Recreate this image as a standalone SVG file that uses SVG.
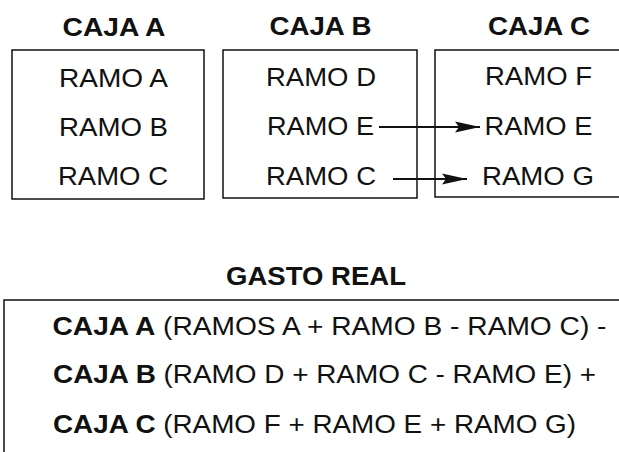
<svg xmlns="http://www.w3.org/2000/svg" width="619" height="452" viewBox="0 0 619 452">
  <style>
    .box { fill: none; stroke: #111; stroke-width: 1.5; }
    .t { font-family: "Liberation Sans", Arial, sans-serif; font-size: 25px; fill: #111; }
    .b { font-weight: bold; }
    .conn { stroke: #111; stroke-width: 2; fill: none; }
  </style>
  <defs>
    <marker id="arrow" markerUnits="userSpaceOnUse" markerWidth="26" markerHeight="12" refX="25" refY="6" orient="auto">
      <path d="M0,0.5 L25,6 L0,11.5 L4,6 z" fill="#111"/>
    </marker>
  </defs>
  <rect width="619" height="452" fill="#fff"/>

  <g id="caja-a">
    <text class="t b" x="62.5" y="36" textLength="103" lengthAdjust="spacingAndGlyphs">CAJA A</text>
    <rect class="box" x="12" y="50" width="192" height="149"/>
    <text class="t" x="59" y="87" textLength="109" lengthAdjust="spacingAndGlyphs">RAMO A</text>
    <text class="t" x="59" y="136" textLength="109" lengthAdjust="spacingAndGlyphs">RAMO B</text>
    <text class="t" x="58" y="185" textLength="110" lengthAdjust="spacingAndGlyphs">RAMO C</text>
  </g>

  <g id="caja-b">
    <text class="t b" x="269.5" y="35" textLength="102" lengthAdjust="spacingAndGlyphs">CAJA B</text>
    <rect class="box" x="223" y="50" width="194" height="148"/>
    <text class="t" x="266" y="86" textLength="110" lengthAdjust="spacingAndGlyphs">RAMO D</text>
    <text class="t" x="267" y="135" textLength="107" lengthAdjust="spacingAndGlyphs">RAMO E</text>
    <text class="t" x="266" y="185" textLength="110" lengthAdjust="spacingAndGlyphs">RAMO C</text>
  </g>

  <g id="caja-c">
    <text class="t b" x="488" y="35" textLength="102" lengthAdjust="spacingAndGlyphs">CAJA C</text>
    <rect class="box" x="435" y="50" width="200" height="147"/>
    <text class="t" x="485" y="85" textLength="107" lengthAdjust="spacingAndGlyphs">RAMO F</text>
    <text class="t" x="484.5" y="135" textLength="108" lengthAdjust="spacingAndGlyphs">RAMO E</text>
    <text class="t" x="482" y="185" textLength="112" lengthAdjust="spacingAndGlyphs">RAMO G</text>
  </g>

  <g id="connectors">
    <line class="conn" x1="379" y1="127" x2="480" y2="127" marker-end="url(#arrow)"/>
    <line class="conn" x1="393" y1="179" x2="467" y2="179" marker-end="url(#arrow)"/>
  </g>

  <g id="gasto-real">
    <text class="t b" x="226" y="285" textLength="180" lengthAdjust="spacingAndGlyphs">GASTO REAL</text>
    <path class="box" d="M640,300 L4,300 L4,460"/>
    <text class="t" x="52.5" y="335" textLength="554" lengthAdjust="spacingAndGlyphs"><tspan class="b">CAJA A</tspan> (RAMOS A + RAMO B - RAMO C) -</text>
    <text class="t" x="53" y="383" textLength="543" lengthAdjust="spacingAndGlyphs"><tspan class="b">CAJA B</tspan> (RAMO D + RAMO C - RAMO E) +</text>
    <text class="t" x="53" y="433" textLength="523" lengthAdjust="spacingAndGlyphs"><tspan class="b">CAJA C</tspan> (RAMO F + RAMO E + RAMO G)</text>
  </g>
</svg>
